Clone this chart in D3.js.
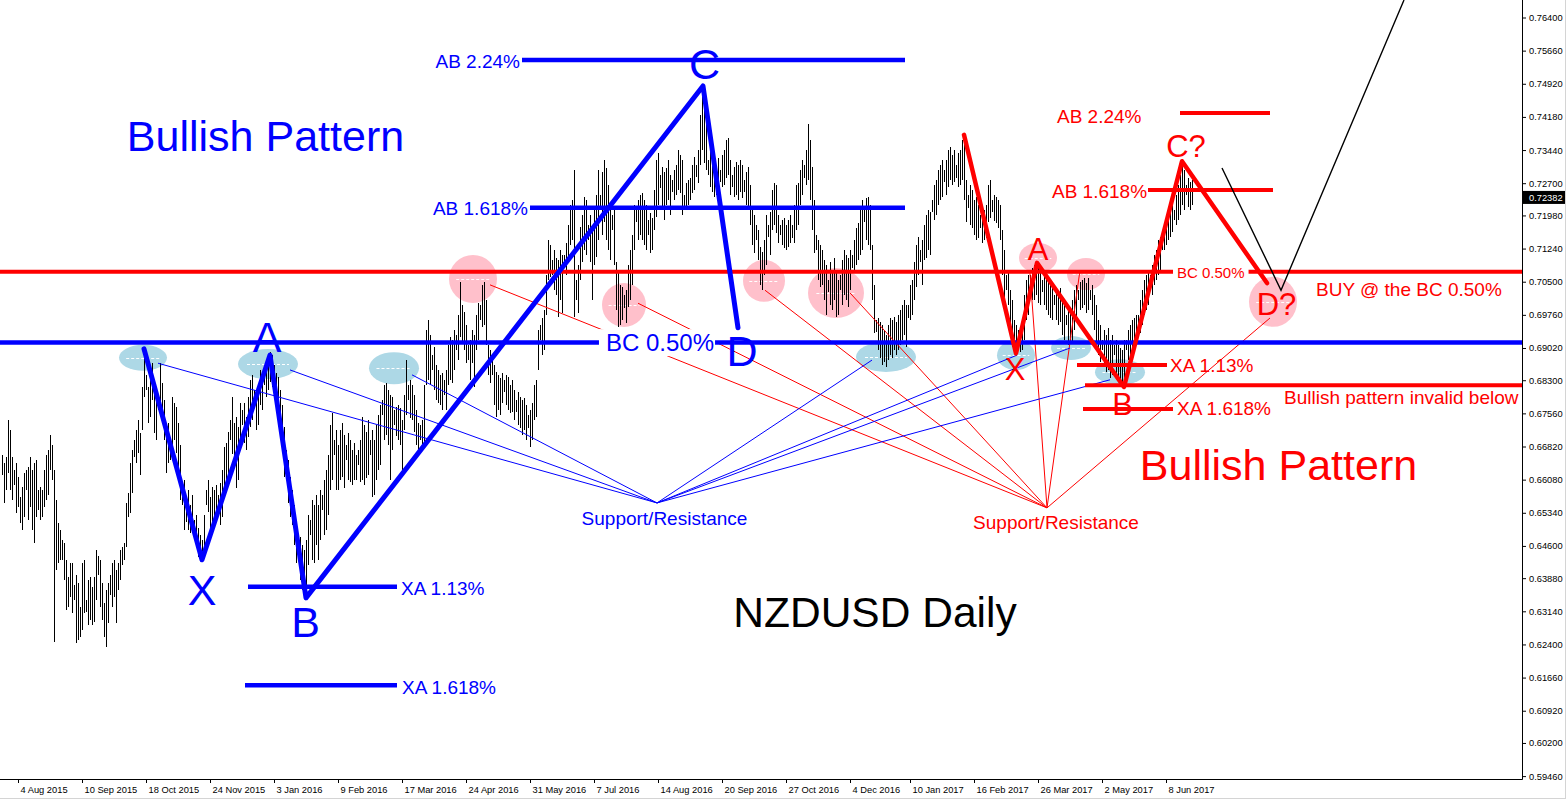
<!DOCTYPE html>
<html><head><meta charset="utf-8">
<script src="https://cdn.jsdelivr.net/npm/d3@7"></script>
<style>
html,body{margin:0;padding:0;background:#fff;}
svg{display:block;font-family:"Liberation Sans",Arial,sans-serif;}
</style></head><body>
<svg id="chart" width="1567" height="801"></svg>
<script>
// ---------- DATA: NZDUSD daily bars (high / low), Sun-Fri sessions ----------
const highs = [
.6663,.6645,.6659,.6741,.6719,.6659,
.6630,.6645,.6614,.6569,.6591,.6622,
.6630,.6636,.6659,.6630,.6645,.6652,
.6585,.6591,.6585,.6630,.6663,.6674,
.6708,.6685,.6630,.6562,.6511,.6496,
.6473,.6466,.6429,.6391,.6422,.6422,
.6373,.6395,.6377,.6324,.6422,.6429,
.6339,.6384,.6391,.6369,.6391,.6451,
.6437,.6429,.6377,.6332,.6362,.6377,
.6395,.6422,.6429,.6406,.6422,.6451,
.6458,.6466,.6556,.6578,.6645,.6674,
.6697,.6719,.6741,.6712,.6815,.6902,
.6842,.6815,.6846,.6868,.6819,.6786,
.6797,.6868,.6824,.6786,.6726,.6735,
.6685,.6793,.6779,.6770,.6735,.6685,
.6585,.6607,.6569,.6585,.6551,.6574,
.6518,.6529,.6500,.6484,.6473,.6529,
.6585,.6607,.6569,.6591,.6585,.6596,
.6574,.6600,.6630,.6681,.6690,.6714,
.6741,.6793,.6735,.6748,.6726,.6779,
.6764,.6779,.6748,.6793,.6830,.6842,
.6808,.6797,.6813,.6853,.6848,
.6853,.6868,.6882,.6893,.6886,
.6864,.6846,.6837,.6808,.6775,.6726,
.6674,.6652,.6614,.6585,.6551,.6511,
.6473,.6480,.6462,.6451,.6473,.6529,
.6518,.6562,.6551,.6574,.6551,.6585,
.6574,.6607,.6630,.6663,.6730,.6757,
.6697,.6719,.6685,.6719,.6735,.6708,
.6685,.6712,.6697,.6674,.6690,.6663,
.6674,.6697,.6748,.6730,.6714,.6741,
.6697,.6719,.6697,.6730,.6752,.6775,
.6786,.6819,.6824,.6808,.6797,.6793,
.6764,.6770,.6775,.6768,.6741,.6797,.6875,
.6819,.6830,.6819,.6797,.6764,.6735,
.6730,.6741,.6819,.6942,.6964,.6931,
.6886,.6904,.6864,.6853,.6842,.6846,
.6830,.6853,.6909,.6926,.6920,.6942,
.6931,.6976,.7049,.6998,.6982,.6953,
.6908,.6919,.6942,.6931,.6976,.7002,
.6998,.7043,.7049,.7009,.6908,.6897,
.6875,.6864,.6848,.6842,.6835,.6846,
.6830,.6842,.6837,.6819,.6830,.6808,
.6786,.6804,.6793,.6786,.6790,.6775,
.6752,.6764,.6779,.6819,.6830,.6942,
.6953,.6969,.6987,.7065,.7143,.7132,
.7098,.7121,.7103,.7098,.7121,.7110,
.7110,.7136,.7177,.7221,.7232,.7299,
.7054,.7087,.7172,.7199,.7239,.7232,
.7177,.7199,.7165,.7210,.7244,.7299,
.7244,.7295,.7322,.7304,.7266,.7217,
.7199,.7210,.7094,.7076,.7043,.7038,
.7020,.7031,.7087,.7121,.7154,.7221,
.7210,.7232,.7244,.7248,.7232,.7221,
.7188,.7203,.7192,.7255,.7322,.7337,
.7288,.7306,.7295,.7304,.7322,.7288,
.7277,.7299,.7311,.7344,.7333,.7322,
.7244,.7270,.7277,.7281,.7311,.7328,
.7311,.7344,.7422,.7485,.7474,.7404,
.7322,.7350,.7344,.7322,.7311,.7326,
.7299,.7333,.7344,.7366,.7371,.7322,
.7288,.7306,.7317,.7311,.7322,.7311,
.7277,.7295,.7306,.7266,.7210,.7199,
.7177,.7165,.7128,.7117,.7143,.7199,
.7177,.7205,.7255,.7270,.7266,.7199,
.7177,.7188,.7192,.7177,.7188,.7199,
.7177,.7221,.7266,.7270,.7299,.7322,
.7311,.7344,.7402,.7366,.7306,.7232,
.7154,.7143,.7132,.7121,.7098,.7087,
.7054,.7094,.7076,.7103,.7072,.7054,
.7065,.7098,.7121,.7110,.7103,.7121,
.7110,.7143,.7170,.7181,.7210,.7232,
.7210,.7237,.7239,.7221,.7132,.7043,
.6964,.6969,.6960,.6953,.6942,.6931,
.6953,.6969,.6964,.6971,.6960,
.6976,.6987,.6998,.7009,.6998,
.6998,.7043,.7054,.7094,.7132,.7150,
.7121,.7143,.7177,.7199,.7210,.7205,
.7232,.7266,.7277,.7299,.7311,.7322,
.7299,.7322,.7344,.7351,.7333,.7344,
.7311,.7337,.7344,.7366,.7373,.7277,
.7244,.7266,.7255,.7232,.7239,.7221,
.7199,.7217,.7210,.7221,.7266,.7277,
.7232,.7244,.7239,.7232,.7221,.7165,.7121,
.7065,.7076,.7031,.7009,.6964,.6953,
.6942,.6949,.6964,.7020,.7054,.7065,
.7065,.7081,.7087,.7092,.7087,.7072,
.7054,.7076,.7065,.7054,.7043,.7047,
.7020,.7031,.7027,.7036,.7009,.6998,
.6976,.6987,.6991,.7009,.7031,.7043,
.7031,.7049,.7054,.7058,.7047,.7058,
.7031,.7043,.7020,.6998,.6964,.6953,
.6919,.6942,.6931,.6946,.6919,.6931,
.6908,.6919,.6908,.6902,.6897,.6919,
.6919,.6942,.6953,.6964,.6969,.6976,
.6976,.7009,.7031,.7054,.7065,.7076,
.7065,.7087,.7110,.7121,.7143,.7150,
.7143,.7177,.7199,.7217,.7210,.7221,
.7210,.7244,.7266,.7288,.7317,.7299,
.7266,.7281,.7273,.7277
];
const lows = [
.6618,.6556,.6585,.6623,.6585,.6562,
.6596,.6534,.6547,.6511,.6496,.6525,
.6585,.6518,.6547,.6496,.6467,.6525,
.6540,.6518,.6525,.6547,.6562,.6574,
.6630,.6607,.6246,.6406,.6422,.6429,
.6429,.6384,.6317,.6324,.6346,.6310,
.6339,.6243,.6250,.6257,.6272,.6310,
.6313,.6283,.6295,.6283,.6290,.6339,
.6395,.6324,.6295,.6257,.6235,.6288,
.6350,.6324,.6346,.6288,.6362,.6384,
.6417,.6429,.6458,.6525,.6534,.6578,
.6659,.6645,.6667,.6618,.6719,.6793,
.6808,.6735,.6748,.6786,.6712,.6697,
.6764,.6770,.6741,.6697,.6623,.6645,
.6652,.6681,.6697,.6667,.6630,.6562,
.6551,.6496,.6514,.6496,.6489,.6496,
.6484,.6462,.6435,.6440,.6424,.6440,
.6551,.6536,.6496,.6511,.6525,.6529,
.6540,.6507,.6525,.6592,.6607,.6611,
.6697,.6665,.6645,.6590,.6607,.6697,
.6730,.6690,.6674,.6703,.6726,.6741,
.6775,.6719,.6730,.6775,.6764,
.6819,.6793,.6808,.6826,.6815,
.6830,.6757,.6741,.6708,.6674,.6614,
.6641,.6556,.6525,.6507,.6462,.6422,
.6440,.6384,.6362,.6350,.6344,.6417,
.6484,.6429,.6422,.6462,.6429,.6473,
.6540,.6484,.6496,.6529,.6585,.6607,
.6663,.6585,.6585,.6607,.6614,.6590,
.6652,.6607,.6603,.6596,.6607,.6607,
.6641,.6603,.6607,.6596,.6611,.6618,
.6663,.6569,.6574,.6607,.6630,.6641,
.6752,.6697,.6708,.6685,.6607,.6674,
.6730,.6705,.6697,.6685,.6630,.6719,.6752,
.6786,.6746,.6741,.6714,.6685,.6674,
.6697,.6674,.6685,.6819,.6830,.6819,
.6853,.6808,.6786,.6779,.6775,.6764,
.6797,.6764,.6819,.6830,.6824,.6853,
.6897,.6875,.6926,.6913,.6897,.6868,
.6875,.6830,.6868,.6815,.6897,.6920,
.6964,.6949,.6953,.6908,.6842,.6824,
.6842,.6775,.6748,.6764,.6752,.6779,
.6804,.6775,.6764,.6757,.6759,.6741,
.6759,.6730,.6723,.6708,.6719,.6697,
.6723,.6681,.6697,.6741,.6748,.6853,
.6920,.6886,.6897,.6976,.7054,.7060,
.7065,.7031,.7020,.6971,.7009,.6980,
.7081,.7065,.7094,.7132,.7143,.6971,
.7009,.6980,.7054,.7094,.7121,.7110,
.7143,.7094,.7009,.7087,.7106,.7143,
.7210,.7154,.7183,.7143,.7121,.7098,
.7165,.7087,.6987,.6949,.6953,.6964,
.6991,.6958,.6993,.7009,.7043,.7121,
.7183,.7143,.7154,.7143,.7132,.7121,
.7154,.7114,.7121,.7165,.7194,.7221,
.7259,.7210,.7188,.7221,.7232,.7199,
.7250,.7232,.7244,.7255,.7248,.7199,
.7214,.7210,.7221,.7232,.7248,.7255,
.7284,.7270,.7311,.7344,.7315,.7299,
.7288,.7262,.7250,.7239,.7244,.7255,
.7273,.7262,.7266,.7281,.7288,.7244,
.7262,.7239,.7244,.7232,.7250,.7237,
.7250,.7221,.7210,.7177,.7132,.7114,
.7143,.7098,.7043,.7031,.7065,.7087,
.7150,.7110,.7165,.7177,.7159,.7136,
.7154,.7132,.7125,.7121,.7128,.7136,
.7148,.7136,.7165,.7177,.7221,.7244,
.7281,.7266,.7277,.7232,.7165,.7114,
.7121,.7054,.7038,.7043,.7009,.6976,
.7027,.6998,.6987,.7009,.6971,.6976,
.7031,.6998,.7020,.7009,.6993,.7031,
.7081,.7070,.7087,.7098,.7110,.7121,
.7183,.7143,.7132,.7121,.7009,.6935,
.6938,.6897,.6879,.6864,.6870,.6859,
.6875,.6886,.6879,.6897,.6886,
.6897,.6908,.6920,.6931,.6904,
.6969,.6964,.6976,.7009,.7038,.7065,
.7094,.7043,.7098,.7103,.7121,.7110,
.7205,.7188,.7199,.7221,.7232,.7239,
.7273,.7244,.7262,.7277,.7266,.7273,
.7281,.7262,.7266,.7277,.7232,.7183,
.7214,.7177,.7170,.7154,.7143,.7147,
.7170,.7136,.7143,.7147,.7183,.7192,
.7205,.7185,.7181,.7170,.7143,.7065,.7009,
.7031,.6998,.6942,.6904,.6897,.6890,
.6920,.6893,.6897,.6920,.6964,.6976,
.7043,.7009,.7009,.7020,.7002,.6998,
.7027,.6998,.6987,.6976,.6969,.6964,
.6998,.6964,.6953,.6960,.6931,.6920,
.6953,.6908,.6913,.6913,.6942,.6964,
.7009,.6987,.6991,.6998,.6980,.6987,
.7009,.6976,.6942,.6904,.6886,.6871,
.6897,.6864,.6848,.6853,.6835,.6842,
.6886,.6842,.6826,.6830,.6819,.6815,
.6897,.6875,.6886,.6893,.6897,.6908,
.6953,.6935,.6953,.6976,.6987,.6998,
.7043,.7020,.7043,.7054,.7065,.7076,
.7121,.7121,.7132,.7143,.7150,.7161,
.7188,.7177,.7188,.7199,.7221,.7210,
.7244,.7217,.7210,.7221
];
const startDate = "2015-07-26";
const holidays = ["2015-12-25","2016-01-01","2016-12-25","2017-01-01"];
const tickDates = ["2015-08-04","2015-09-10","2015-10-18","2015-11-24","2016-01-03","2016-02-09","2016-03-17","2016-04-24","2016-05-31","2016-07-07","2016-08-14","2016-09-20","2016-10-27","2016-12-04","2017-01-10","2017-02-16","2017-03-26","2017-05-02","2017-06-08"];
const priceTicks = [0.764,0.7566,0.7492,0.7418,0.7344,0.727,0.7198,0.7124,0.705,0.6976,0.6902,0.683,0.6756,0.6682,0.6608,0.6534,0.646,0.6388,0.6314,0.624,0.6166,0.6092,0.602,0.5946];
const lastPrice = 0.72382;

// annotation anchors: [bar index, price]
const blueZones = [[70.5,.6880],[133,.6866],[196,.6857],[442,.6882],[507,.6886],[534.5,.6902],[559,.6848]];
const pinkZones = [[235.5,.7056],[311,.6998],[381,.7052],[417,.7025],[518,.7103],[542,.7067],[635.5,.7005]];
const redHub = [522.5,.6545];
const redRays = [[244,.7043],[318,.7002],[381.5,.7031],[424,.7025],[514,.7069],[539,.7076],[634,.6969]];
const blueHub = [327.5,.6556];
const blueRays = [[78,.6868],[144,.6853],[205,.6842],[435,.6875],[507.5,.6886],[534,.6902],[554,.6831]];
const redLevels = [[-1,760,.7072],[541.5,760,.6819],[589,634,.7427],[573,635.5,.7255],[537.5,582.5,.6864],[540.5,585.5,.6766]];
const blueLevels = [[-1,760,.6914],[260,451.5,.7545],[264,451.5,.7215],[123,197.5,.6369],[121.5,197.5,.6149]];
const bluePattern = [[71,.6900],[100,.6429],[134,.6886],[152,.6344],[350.5,.7487],[368,.6947]];
const redPattern = [[481,.7378],[507,.6890],[517.5,.7092],[561,.6815],[590,.7319],[632.5,.7047]];
const projection = [[610,.7304],[639.5,.7031],[701,.7679]];
const blueBig = [["Bullish Pattern",131.75,.7342],["X",100,.6328],["A",132.5,.6893],["B",151.75,.6257],["C",351.25,.7503],["D",370,.6862]];
const blueSmall = [["AB 2.24%",259,.7527,"end"],["AB 1.618%",263,.7199,"end"],["XA 1.13%",199.5,.6350,"start"],["XA 1.618%",200,.6129,"start"],["Support/Resistance",331.25,.6507,"middle"]];
const blueBC = ["BC 0.50%",329,.6895];
const redBig = [["Bullish Pattern",638.25,.6607]];
const redPoints = [["A",518,.7099],["X",506.5,.6830],["B",560.25,.6752],["C?",592,.7328],["D?",637.25,.6976]];
const redSmall = [["AB 2.24%",527.5,.7404,"start"],["AB 1.618%",525,.7237,"start"],["XA 1.13%",584,.6848,"start"],["XA 1.618%",587.5,.6752,"start"],["Bullish pattern invalid below",641,.6777,"start"],["BUY @ the BC 0.50%",657,.7018,"start"],["Support/Resistance",527,.6498,"middle"]];
const redBC = ["BC 0.50%",587.5,.7058];
const titleText = ["NZDUSD Daily",436.5,.6279];

// ---------- styles ----------
const blueZoneR = [[24,13],[30,15],[25,16],[30,15],[19,15],[20,12],[25,13]];
const pinkZoneR = [[24,24],[22,22],[21,21],[28,25],[19,15],[19,16],[24,25]];
const BLUE = "#0000ff", RED = "#ff0000";
const plotR = 1522, plotB = 779;

// ---------- build ----------
const parse = d3.utcParse("%Y-%m-%d"), key = d3.utcFormat("%Y-%m-%d"), lab = d3.utcFormat("%-d %b %Y");
const dates = [];
for (let d = parse(startDate); dates.length < highs.length; d = d3.utcDay.offset(d, 1)) {
  const k = key(d);
  if (d.getUTCDay() !== 6 && !holidays.includes(k)) dates.push(k);
}
const svg = d3.select("#chart");
const x = d3.scaleLinear().domain([0, highs.length - 1]).range([2, 1192]);
const y = d3.scaleLinear().domain([0.5946, 0.764]).range([776.1, 17.5]);

svg.append("defs").append("clipPath").attr("id","plotclip").append("rect")
  .attr("x",0).attr("y",0).attr("width",plotR).attr("height",plotB);
const plot = svg.append("g").attr("clip-path","url(#plotclip)");

function zones(centers, radii, fill) {
  const g = plot.append("g");
  g.selectAll("ellipse").data(centers).join("ellipse")
    .attr("cx", d => x(d[0])).attr("cy", d => y(d[1]))
    .attr("rx", (d,k) => radii[k][0]).attr("ry", (d,k) => radii[k][1]).attr("fill", fill);
  g.selectAll("line").data(centers).join("line")
    .attr("x1", (d,k) => x(d[0]) - radii[k][0]*0.7).attr("x2", (d,k) => x(d[0]) + radii[k][0]*0.7)
    .attr("y1", d => Math.round(y(d[1]))+0.5).attr("y2", d => Math.round(y(d[1]))+0.5)
    .attr("stroke","#fff").attr("stroke-width",1).attr("stroke-dasharray","3,2");
}
zones(blueZones, blueZoneR, "#add8e6");
zones(pinkZones, pinkZoneR, "#ffc0cb");

plot.append("g").selectAll("line").data(highs).join("line")
  .attr("x1", (d,i) => Math.round(x(i))+0.5).attr("x2", (d,i) => Math.round(x(i))+0.5)
  .attr("y1", d => y(d)).attr("y2", (d,i) => y(lows[i]))
  .attr("stroke","#000").attr("stroke-width",1).attr("shape-rendering","crispEdges");

function rays(hub, pts, color) {
  plot.append("g").selectAll("line").data(pts).join("line")
    .attr("x1", d => x(d[0])).attr("y1", d => y(d[1]))
    .attr("x2", x(hub[0])).attr("y2", y(hub[1]))
    .attr("stroke", color).attr("stroke-width", 1);
}
rays(redHub, redRays, RED);
rays(blueHub, blueRays, BLUE);

function levels(list, color, w) {
  plot.append("g").selectAll("line").data(list).join("line")
    .attr("x1", d => x(d[0])).attr("x2", d => x(d[1]))
    .attr("y1", d => y(d[2])).attr("y2", d => y(d[2]))
    .attr("stroke", color).attr("stroke-width", w);
}
levels(redLevels, RED, 4);
levels(blueLevels, BLUE, 4.5);

const line = d3.line().x(d => x(d[0])).y(d => y(d[1]));
plot.append("path").datum(bluePattern).attr("d", line).attr("fill","none")
  .attr("stroke", BLUE).attr("stroke-width", 5).attr("stroke-linejoin","round").attr("stroke-linecap","round");
plot.append("path").datum(redPattern).attr("d", line).attr("fill","none")
  .attr("stroke", RED).attr("stroke-width", 4.5).attr("stroke-linejoin","round").attr("stroke-linecap","round");
plot.append("path").datum(projection).attr("d", line).attr("fill","none")
  .attr("stroke", "#000").attr("stroke-width", 1.4);

function texts(list, size, color, anchorDefault) {
  plot.append("g").selectAll("text").data(list).join("text")
    .attr("x", d => x(d[1])).attr("y", d => y(d[2]))
    .attr("text-anchor", d => d[3] || anchorDefault)
    .attr("font-size", size).attr("fill", color).text(d => d[0]);
}
function bgText(d, size, color, anchor, padL, padR) {
  const g = plot.append("g");
  const t = g.append("text").attr("x", x(d[1])).attr("y", y(d[2])).attr("text-anchor", anchor)
    .attr("font-size", size).attr("fill", color).text(d[0]);
  const b = t.node().getBBox();
  g.insert("rect","text").attr("x", b.x - padL).attr("y", b.y).attr("width", b.width + padL + padR)
    .attr("height", b.height).attr("fill", "#fff");
}
texts(blueBig, 43, BLUE, "middle");
texts(blueSmall, 19, BLUE, "start");
bgText(blueBC, 24, BLUE, "middle", 7, 1);
texts(redBig, 43, RED, "middle");
texts(redPoints, 31, RED, "middle");
texts(redSmall, 19, RED, "start");
bgText(redBC, 15, RED, "start", 4, 4);
texts([titleText], 42.5, "#000", "middle");

// frame
svg.append("line").attr("x1", plotR+0.5).attr("x2", plotR+0.5).attr("y1", 0).attr("y2", plotB+0.5).attr("stroke","#000");
svg.append("line").attr("x1", 0).attr("x2", plotR+0.5).attr("y1", plotB+0.5).attr("y2", plotB+0.5).attr("stroke","#000");
svg.append("line").attr("x1", 1565.5).attr("x2", 1565.5).attr("y1", 0).attr("y2", 798).attr("stroke","#d4d4d4");
svg.append("line").attr("x1", 0).attr("x2", 1566).attr("y1", 798.5).attr("y2", 798.5).attr("stroke","#d4d4d4");

// axes
const tickIdx = tickDates.map(d => dates.indexOf(d));
const gx = svg.append("g").attr("transform", `translate(0,${plotB})`)
  .call(d3.axisBottom(x).tickValues(tickIdx).tickFormat(i => lab(parse(dates[i]))).tickSize(4).tickPadding(3).tickSizeOuter(0));
gx.select(".domain").remove();
gx.attr("font-family", '"Liberation Sans",Arial,sans-serif').attr("font-size", 9.3);
gx.selectAll("text").attr("text-anchor","start").attr("x", 2).attr("fill","#000");

const gy = svg.append("g").attr("transform", `translate(${plotR},0)`)
  .call(d3.axisRight(y).tickValues(priceTicks).tickFormat(d3.format(".5f")).tickSize(4).tickPadding(3).tickSizeOuter(0));
gy.select(".domain").remove();
gy.attr("font-family", '"Liberation Sans",Arial,sans-serif').attr("font-size", 9.3);
gy.selectAll("text").attr("fill","#000");

const lp = svg.append("g").attr("transform", `translate(${plotR+1},${y(lastPrice)})`);
lp.append("rect").attr("x", 0).attr("y", -6.5).attr("width", 42).attr("height", 13).attr("fill","#000");
lp.append("text").attr("x", 6).attr("dy","0.35em").attr("font-size", 9.3).attr("fill","#fff").text(d3.format(".5f")(lastPrice));
</script>
</body></html>
